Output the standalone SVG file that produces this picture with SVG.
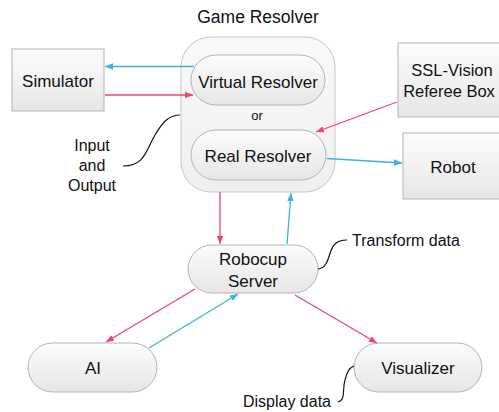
<svg xmlns="http://www.w3.org/2000/svg" width="499" height="412" viewBox="0 0 499 412">
<style>
text{font-family:"Liberation Sans",Arial,sans-serif;fill:#111;}
.n{font-size:17px;text-anchor:middle;}
.a{font-size:16px;}
.box{fill:url(#g);stroke:#b4b4b4;stroke-width:1;}
.red{stroke:#f0456c;stroke-width:1.3;fill:none;}
.blue{stroke:#3ab2e3;stroke-width:1.3;fill:none;}
.note{stroke:#111;stroke-width:1.2;fill:none;}
</style>
<defs>
<linearGradient id="g" x1="0" y1="0" x2="0" y2="1">
<stop offset="0" stop-color="#fcfcfc"/>
<stop offset="1" stop-color="#e6e6e6"/>
</linearGradient>
<linearGradient id="gc" x1="0" y1="0" x2="0" y2="1">
<stop offset="0" stop-color="#f9f9f9"/>
<stop offset="1" stop-color="#efefef"/>
</linearGradient>
<marker id="ar" viewBox="0 0 8 8" refX="8" refY="4" markerWidth="8" markerHeight="8" markerUnits="userSpaceOnUse" orient="auto">
<path d="M0,0.8 L8,4 L0,7.2 Z" fill="#f0456c"/>
</marker>
<marker id="ab" viewBox="0 0 8 8" refX="8" refY="4" markerWidth="8" markerHeight="8" markerUnits="userSpaceOnUse" orient="auto">
<path d="M0,0.8 L8,4 L0,7.2 Z" fill="#3ab2e3"/>
</marker>
</defs>

<g id="game-resolver">
<rect x="181" y="37" width="154" height="155" rx="30" fill="url(#gc)" stroke="#c6c6c6"/>
<text x="258" y="23" style="font-size:17.5px;text-anchor:middle">Game Resolver</text>
<text x="257" y="120" style="font-size:13px;text-anchor:middle">or</text>
</g>
<g id="simulator">
<rect class="box" x="12" y="49" width="92" height="62"/>
<text class="n" x="58" y="87">Simulator</text>
</g>
<g id="virtual-resolver">
<rect class="box" x="191" y="55" width="134" height="50" rx="25"/>
<text class="n" x="258" y="88">Virtual Resolver</text>
</g>
<g id="real-resolver">
<rect class="box" x="191" y="130" width="135" height="50" rx="25"/>
<text class="n" x="258" y="162">Real Resolver</text>
</g>
<g id="ssl-vision">
<rect class="box" x="398" y="43" width="110" height="74"/>
<text x="452" y="76" style="font-size:16.5px;text-anchor:middle">SSL-Vision</text>
<text x="449" y="97" style="font-size:16.5px;text-anchor:middle">Referee Box</text>
</g>
<g id="robot">
<rect class="box" x="403" y="133" width="105" height="66"/>
<text class="n" x="453" y="173">Robot</text>
</g>
<g id="robocup-server">
<rect class="box" x="188" y="245" width="130" height="48" rx="24"/>
<text class="n" x="253" y="265">Robocup</text>
<text class="n" x="253" y="287">Server</text>
</g>
<g id="ai">
<rect class="box" x="28" y="343" width="129" height="49" rx="24.5"/>
<text class="n" x="93" y="374">AI</text>
</g>
<g id="visualizer">
<rect class="box" x="354" y="343" width="128" height="49" rx="24.5"/>
<text class="n" x="418" y="374">Visualizer</text>
</g>

<g id="connectors">
<line class="blue" x1="194" y1="66.5" x2="105" y2="66.5" marker-end="url(#ab)"/>
<line class="red" x1="105" y1="95" x2="193" y2="95" marker-end="url(#ar)"/>
<line class="red" x1="397" y1="102" x2="316" y2="132" marker-end="url(#ar)"/>
<line class="blue" x1="327" y1="158.5" x2="402" y2="163" marker-end="url(#ab)"/>
<line class="red" x1="220" y1="192" x2="220" y2="244" marker-end="url(#ar)"/>
<line class="blue" x1="287" y1="244" x2="291" y2="193" marker-end="url(#ab)"/>
<line class="red" x1="195" y1="289" x2="106" y2="342" marker-end="url(#ar)"/>
<line class="blue" x1="149" y1="348" x2="238" y2="294" marker-end="url(#ab)"/>
<line class="red" x1="295" y1="295" x2="377" y2="343" marker-end="url(#ar)"/>
</g>

<g id="annotations">
<path class="note" d="M123,166 C145,166 146,150 155,135 C163,121 170,115 180,115"/>
<text class="a" x="92" y="151" text-anchor="middle">Input</text>
<text class="a" x="92" y="171" text-anchor="middle">and</text>
<text class="a" x="92" y="191" text-anchor="middle">Output</text>
<path class="note" d="M318,269 C330,268 328,250 335,244 C338,241 342,240 347,240"/>
<text class="a" x="352" y="246">Transform data</text>
<path class="note" d="M338,402 C346,400 342,390 345,380 C347,372 349,368 354,366"/>
<text class="a" x="331" y="407" text-anchor="end">Display data</text>
</g>
</svg>
